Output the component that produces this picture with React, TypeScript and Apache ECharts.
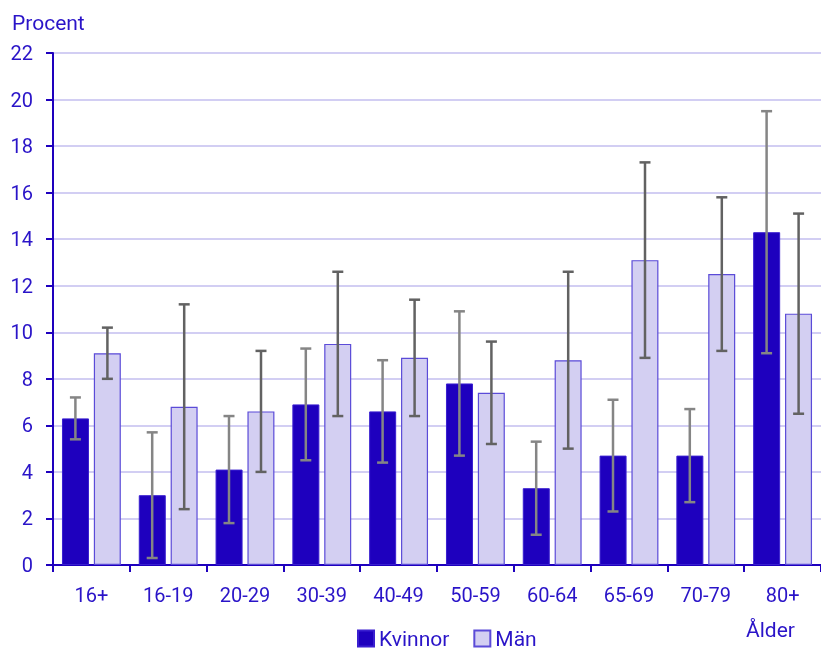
import React, { useEffect, useRef } from "react";
import * as echarts from "echarts";

const categories = ["16+", "16-19", "20-29", "30-39", "40-49", "50-59", "60-64", "65-69", "70-79", "80+"];
const kvinnor = [6.3, 3.0, 4.1, 6.9, 6.6, 7.8, 3.3, 4.7, 4.7, 14.3];
const kvinnorLow = [5.4, 0.3, 1.8, 4.5, 4.4, 4.7, 1.3, 2.3, 2.7, 9.1];
const kvinnorHigh = [7.2, 5.7, 6.4, 9.3, 8.8, 10.9, 5.3, 7.1, 6.7, 19.5];
const man = [9.1, 6.8, 6.6, 9.5, 8.9, 7.4, 8.8, 13.1, 12.5, 10.8];
const manLow = [8.0, 2.4, 4.0, 6.4, 6.4, 5.2, 5.0, 8.9, 9.2, 6.5];
const manHigh = [10.2, 11.2, 9.2, 12.6, 11.4, 9.6, 12.6, 17.3, 15.8, 15.1];

const TXT = "#2a14c8";
const DARK = "#1e00be";
const LIGHT = "#d3cff2";
const FONT = "Roboto, 'Noto Sans', sans-serif";

export default function App() {
  const ref = useRef<HTMLDivElement>(null);
  useEffect(() => {
    if (!ref.current) return;
    const chart = echarts.init(ref.current, undefined, { renderer: "svg" });
    const errSeries = (low: number[], high: number[], offset: number, color: string, name: string) => ({
      type: "custom",
      name,
      silent: true,
      z: 10,
      data: low.map((l, i) => [i, l, high[i]]),
      renderItem: (params: any, api: any) => {
        const i = api.value(0);
        const p1 = api.coord([i, api.value(1)]);
        const p2 = api.coord([i, api.value(2)]);
        const x = p1[0] + offset;
        const cap = 5.5;
        const style = { stroke: color, lineWidth: 2.5 };
        return {
          type: "group",
          children: [
            { type: "line", shape: { x1: x, y1: p1[1], x2: x, y2: p2[1] }, style },
            { type: "line", shape: { x1: x - cap, y1: p1[1], x2: x + cap, y2: p1[1] }, style },
            { type: "line", shape: { x1: x - cap, y1: p2[1], x2: x + cap, y2: p2[1] }, style },
          ],
        };
      },
    });
    chart.setOption({
      animation: false,
      textStyle: { fontFamily: FONT },
      grid: { left: 53, top: 53, right: -5, bottom: 86, containLabel: false },
      legend: {
        bottom: -3,
        left: 352,
        icon: "rect",
        itemWidth: 16,
        itemHeight: 16,
        itemGap: 24,
        textStyle: { color: TXT, fontSize: 21, fontFamily: FONT },
        data: ["Kvinnor", "Män"],
      },
      xAxis: {
        type: "category",
        data: categories,
        axisLine: { lineStyle: { color: DARK, width: 2 } },
        axisTick: { show: true, length: 7, lineStyle: { color: DARK, width: 2 } },
        axisLabel: { color: TXT, fontSize: 20, margin: 20, fontFamily: FONT },
      },
      yAxis: {
        type: "value",
        min: 0,
        max: 22,
        interval: 2,
        axisLine: { show: true, lineStyle: { color: DARK, width: 2 } },
        axisTick: { show: true, length: 7, lineStyle: { color: DARK, width: 2 } },
        axisLabel: { color: TXT, fontSize: 20, margin: 20, fontFamily: FONT },
        splitLine: { lineStyle: { color: "#d2cef3", width: 2 } },
      },
      graphic: [
        { type: "text", left: 12, top: 12, style: { text: "Procent", fill: TXT, font: `21px ${FONT}` } },
        { type: "text", left: 746, top: 619, style: { text: "Ålder", fill: TXT, font: `21px ${FONT}` } },
      ],
      series: [
        {
          name: "Kvinnor",
          type: "bar",
          data: kvinnor,
          barWidth: 27,
          barGap: "18%",
          barCategoryGap: "23%",
          itemStyle: { color: DARK, borderColor: "#3a1fd0", borderWidth: 1 },
        },
        {
          name: "Män",
          type: "bar",
          data: man,
          barWidth: 27,
          itemStyle: { color: LIGHT, borderColor: "#5b4bd8", borderWidth: 1.2 },
        },
        errSeries(kvinnorLow, kvinnorHigh, -16, "#858585", "errK"),
        errSeries(manLow, manHigh, 16, "#626262", "errM"),
      ],
    });
    return () => chart.dispose();
  }, []);
  return <div ref={ref} style={{ position: "fixed", left: 0, top: 0, width: 821, height: 651 }} />;
}
